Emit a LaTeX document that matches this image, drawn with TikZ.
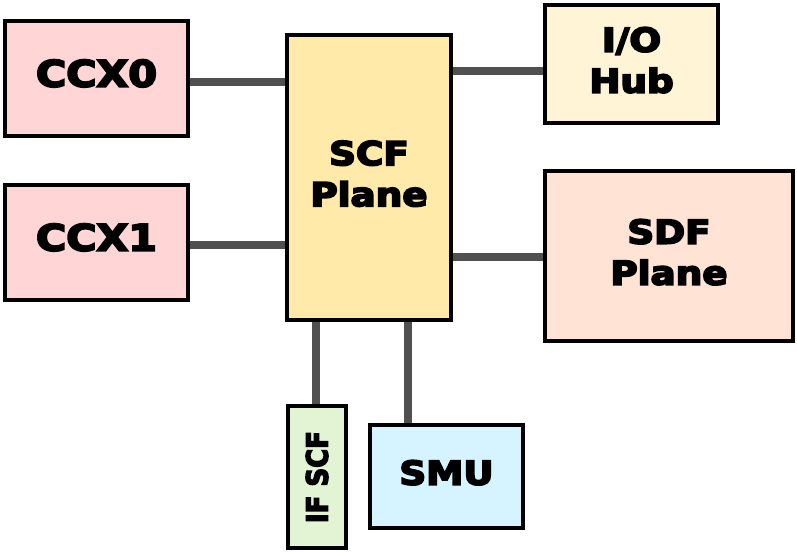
\documentclass[tikz,border=0pt]{standalone}
\usepackage{fontspec}
\setmainfont{DejaVu Sans}
\newfontfamily\heavyfont{DejaVu Sans}[BoldFeatures={FakeBold=5}]
\usetikzlibrary{backgrounds}
\definecolor{ccxfill}{HTML}{FFD5D5}
\definecolor{scffill}{HTML}{FFEAAA}
\definecolor{iofill}{HTML}{FFF5D6}
\definecolor{sdffill}{HTML}{FFE3D5}
\definecolor{iffill}{HTML}{E3F4D5}
\definecolor{smufill}{HTML}{D5F4FF}
\definecolor{connc}{HTML}{505050}
\newcommand{\wtext}[2]{\scalebox{1.13}[1]{\fontsize{#1}{41}\heavyfont\bfseries\begin{tabular}{@{}c@{}}#2\end{tabular}}}
\tikzset{
  blk/.style={draw=black, line width=4pt, inner sep=0pt, rectangle},
  conn/.style={draw=connc, line width=8pt},
}
\begin{document}
\begin{tikzpicture}[x=1pt,y=-1pt]
\useasboundingbox (0,0) rectangle (797,551);
\node[blk, fill=ccxfill, minimum width=183pt, minimum height=115pt] (ccx0) at (96.5,78.5) {\wtext{36.5}{CCX0}};
\node[blk, fill=ccxfill, minimum width=183pt, minimum height=115pt] (ccx1) at (96.5,242.5) {\wtext{36.5}{CCX1}};
\node[blk, fill=scffill, minimum width=164pt, minimum height=285pt] (scf) at (369,177.5) {\wtext{33}{SCF\\Plane}};
\node[blk, fill=iofill, minimum width=173pt, minimum height=118pt] (io) at (631.5,64) {\wtext{33}{I/O\\Hub}};
\node[blk, fill=sdffill, minimum width=248pt, minimum height=170pt] (sdf) at (669,256) {\wtext{33}{SDF\\Plane}};
\node[blk, fill=iffill, minimum width=58pt, minimum height=142pt] (ifscf) at (317,477) {\scalebox{1.13}[1]{\rotatebox{90}{\fontsize{26}{30}\heavyfont\bfseries IF SCF}}};
\node[blk, fill=smufill, minimum width=153pt, minimum height=103pt] (smu) at (446.5,476.5) {\wtext{33}{SMU}};
\begin{scope}[on background layer]
\draw[conn] (ccx0.east |- 0,82) -- (scf.west |- 0,82);
\draw[conn] (ccx1.east |- 0,245) -- (scf.west |- 0,245);
\draw[conn] (scf.east |- 0,71) -- (io.west |- 0,71);
\draw[conn] (scf.east |- 0,257) -- (sdf.west |- 0,257);
\draw[conn] (scf.south -| 316,0) -- (ifscf.north -| 316,0);
\draw[conn] (scf.south -| 408,0) -- (smu.north -| 408,0);
\end{scope}
\end{tikzpicture}
\end{document}
